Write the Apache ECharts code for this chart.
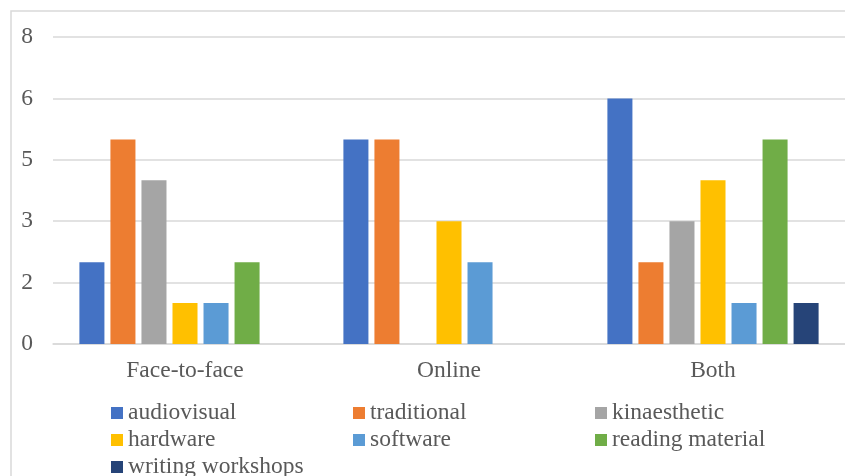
<!DOCTYPE html>
<html><head><meta charset="utf-8">
<script src="https://cdn.jsdelivr.net/npm/echarts@6/dist/echarts.min.js"></script>
<style>html,body{margin:0;padding:0;background:#fff}#c{width:845px;height:476px}</style>
</head><body><div id="c"></div>
<script>
const categories = ['Face-to-face', 'Online', 'Both'];
const seriesNames = ['audiovisual', 'traditional', 'kinaesthetic', 'hardware', 'software', 'reading material', 'writing workshops'];
const audiovisual = [2.13, 5.33, 6.4];
const traditional = [5.33, 5.33, 2.13];
const kinaesthetic = [4.27, 0, 3.2];
const hardware = [1.07, 3.2, 4.27];
const software = [1.07, 2.13, 1.07];
const readingMaterial = [2.13, 0, 5.33];
const writingWorkshops = [0, 0, 1.07];
const yTicks = [0, 1.6, 3.2, 4.8, 6.4, 8];

const values = [audiovisual, traditional, kinaesthetic, hardware, software, readingMaterial, writingWorkshops];
const colors = ['#4472C4', '#ED7D31', '#A5A5A5', '#FFC000', '#5B9BD5', '#70AD47', '#264478'];
const font = 'Liberation Serif, Times New Roman, serif';
const legendText = {fontFamily: font, fontSize: 23.5, color: '#595959', lineHeight: 24};
function legendCol(left, names) {
  return {orient: 'vertical', left: left, top: 401, height: 200, itemWidth: 12, itemHeight: 12, itemGap: 3,
    icon: 'rect', textStyle: legendText, data: names, selectedMode: false, padding: 0};
}
const chart = echarts.init(document.getElementById('c'));
chart.setOption({
  animation: false,
  color: colors,
  graphic: [{type: 'rect', shape: {x: 11, y: 11, width: 1000, height: 1000},
    style: {fill: 'none', stroke: '#d9d9d9', lineWidth: 1.5}, silent: true, z: -1}],
  grid: {left: 53, right: 0, top: 37, bottom: 132},
  legend: [
    legendCol(111, [seriesNames[0], seriesNames[3], seriesNames[6]]),
    legendCol(353, [seriesNames[1], seriesNames[4]]),
    legendCol(595, [seriesNames[2], seriesNames[5]])
  ],
  xAxis: {type: 'category', data: categories,
    axisLine: {lineStyle: {color: '#d9d9d9', width: 1.5}}, axisTick: {show: false},
    axisLabel: {fontFamily: font, fontSize: 23.5, color: '#595959', margin: 15}},
  yAxis: {type: 'value', min: yTicks[0], max: yTicks[yTicks.length - 1], interval: yTicks[1] - yTicks[0],
    axisLine: {show: false}, axisTick: {show: false},
    splitLine: {lineStyle: {color: '#d9d9d9', width: 1.5}},
    axisLabel: {fontFamily: font, fontSize: 23.5, color: '#595959', margin: 20,
      formatter: v => String(Math.round(v))}},
  series: seriesNames.map((n, i) => ({name: n, type: 'bar', data: values[i],
    barGap: '24%', barCategoryGap: '20%'}))
});
</script></body></html>
